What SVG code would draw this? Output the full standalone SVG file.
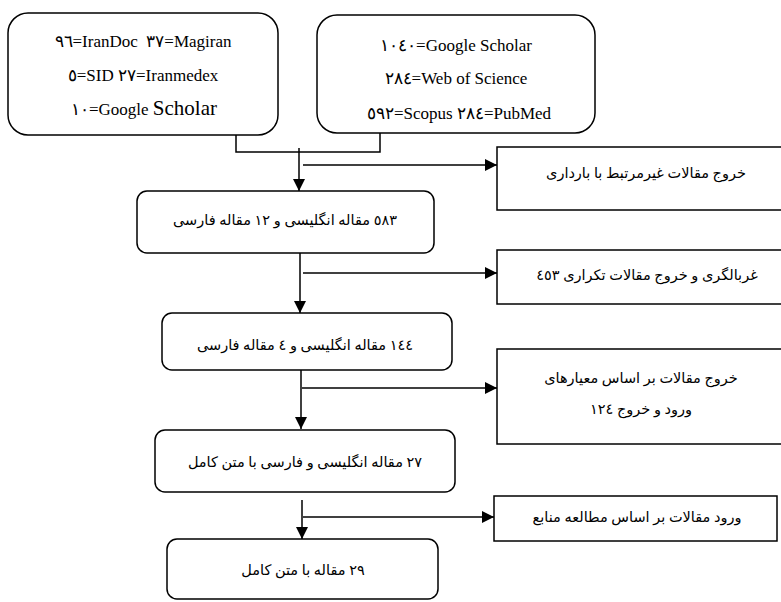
<svg xmlns="http://www.w3.org/2000/svg" width="781" height="602" viewBox="0 0 781 602">
<style>
.box{fill:#fff;stroke:#000;stroke-width:1.5}
.ln{fill:none;stroke:#000;stroke-width:1.5}
.en{font-family:"Liberation Serif","Times New Roman",serif;font-size:17px;fill:#000;text-anchor:middle}
.fa{font-family:"Liberation Serif","DejaVu Sans","Noto Sans",sans-serif;font-size:14.5px;fill:#000;text-anchor:middle;direction:rtl}
</style>
<defs>
<marker id="ah" markerUnits="userSpaceOnUse" markerWidth="12" markerHeight="12" refX="12" refY="6" orient="auto">
<path d="M0,0 L12,6 L0,12 Z" fill="#000"/>
</marker>
</defs>
<rect width="781" height="602" fill="#fff"/>
<g id="connectors">
<path class="ln" d="M236,134 V152 H380 V133"/>
<path class="ln" d="M299,148 V191" marker-end="url(#ah)"/>
<path class="ln" d="M303,165 H497" marker-end="url(#ah)"/>
<path class="ln" d="M300,253 V313" marker-end="url(#ah)"/>
<path class="ln" d="M303,273 H497" marker-end="url(#ah)"/>
<path class="ln" d="M301,370 V429" marker-end="url(#ah)"/>
<path class="ln" d="M302,388 H497" marker-end="url(#ah)"/>
<path class="ln" d="M302,500 V539" marker-end="url(#ah)"/>
<path class="ln" d="M303,517 H494" marker-end="url(#ah)"/>
</g>
<g id="n1">
<rect class="box" x="8" y="13" width="270" height="122" rx="20"/>
<text class="en" x="143" y="47" xml:space="preserve">٩٦=IranDoc  ٣٧=Magiran</text>
<text class="en" x="143" y="81">٥=SID ٢٧=Iranmedex</text>
<text class="en" x="144" y="115">١٠=Google <tspan font-size="21">Scholar</tspan></text>
</g>
<g id="n2">
<rect class="box" x="317" y="15" width="278" height="118" rx="20"/>
<text class="en" x="456" y="51">١٠٤٠=Google Scholar</text>
<text class="en" x="456" y="84">٢٨٤=Web of Science</text>
<text class="en" x="459" y="119">٥٩٢=Scopus ٢٨٤=PubMed</text>
</g>
<g id="n3">
<rect class="box" x="137" y="191" width="297" height="62" rx="10"/>
<text class="fa" x="285" y="225">٥٨٣ مقاله انگلیسی و ١٢ مقاله فارسی</text>
</g>
<g id="e1">
<rect class="box" x="497" y="147" width="285" height="63"/>
<text class="fa" x="646" y="178">خروج مقالات غیرمرتبط با بارداری</text>
</g>
<g id="e2">
<rect class="box" x="497" y="250" width="285" height="54"/>
<text class="fa" x="647" y="280">غربالگری و خروج مقالات تکراری ٤٥٣</text>
</g>
<g id="n4">
<rect class="box" x="162" y="313" width="290" height="57" rx="10"/>
<text class="fa" x="305" y="350">١٤٤ مقاله انگلیسی و ٤ مقاله فارسی</text>
</g>
<g id="e3">
<rect class="box" x="497" y="349" width="285" height="95"/>
<text class="fa" x="641" y="383">خروج مقالات بر اساس معیارهای</text>
<text class="fa" x="641" y="414">ورود و خروج ١٢٤</text>
</g>
<g id="n5">
<rect class="box" x="155" y="430" width="300" height="62" rx="10"/>
<text class="fa" x="305" y="467">٢٧ مقاله انگلیسی و فارسی با متن کامل</text>
</g>
<g id="e4">
<rect class="box" x="494" y="496" width="283" height="45"/>
<text class="fa" x="637" y="522">ورود مقالات بر اساس مطالعه منابع</text>
</g>
<g id="n6">
<rect class="box" x="167" y="539" width="271" height="60" rx="10"/>
<text class="fa" x="303" y="575">٢٩ مقاله با متن کامل</text>
</g>
</svg>
